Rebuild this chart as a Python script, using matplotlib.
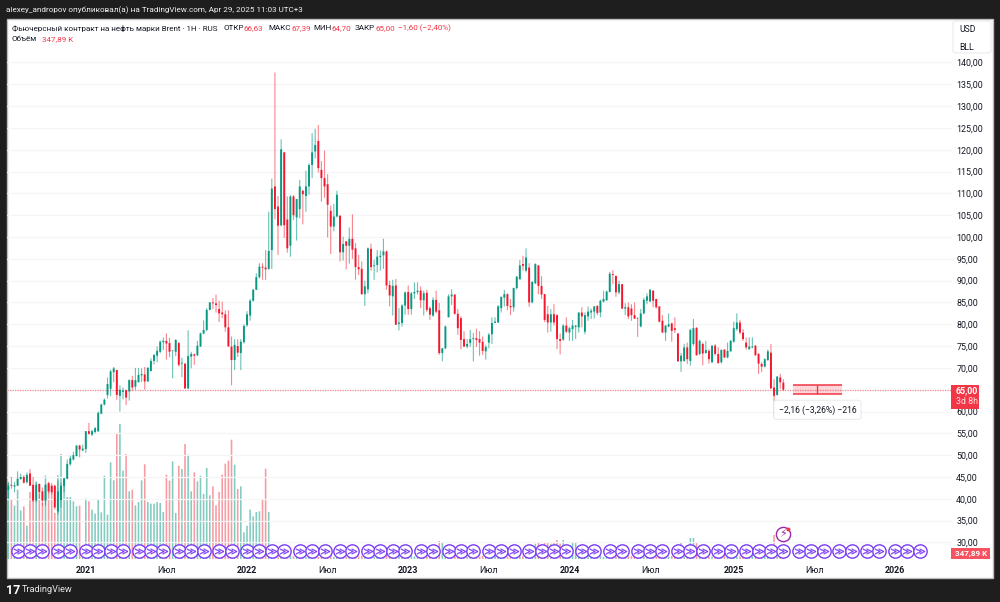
import matplotlib
matplotlib.use('Agg')
import matplotlib.pyplot as plt
import numpy as np
from matplotlib.patches import Rectangle, FancyBboxPatch

plt.rcParams['font.family'] = ['Roboto', 'DejaVu Sans']

# weekly candles, first one is the week of 13 Jul 2020
opens = [
    42.0, 43.2, 42.8, 43.0, 44.5, 45.0, 43.8, 45.8, 43.2, 39.6,
    43.4, 41.7, 39.6, 43.6, 43.0, 43.0, 37.1, 39.7, 42.9, 44.6,
    47.9, 49.0, 49.8, 52.2, 51.1, 51.4, 55.5, 54.7, 55.3, 55.5,
    59.5, 61.6, 63.8, 65.2, 69.0, 69.5, 63.6, 64.5, 64.9, 64.6,
    67.2, 65.7, 66.7, 68.3, 68.5, 66.9, 69.3, 71.6, 72.8, 73.7,
    75.9, 76.2, 75.7, 73.9, 73.7, 75.7, 71.0, 71.0, 65.3, 72.6,
    73.1, 72.9, 74.9, 77.9, 78.7, 83.3, 85.0, 84.8, 83.5, 82.7,
    82.3, 79.3, 74.9, 71.8, 75.0, 73.4, 75.9, 79.8, 82.0, 85.4,
    87.9, 90.8, 93.2, 93.0, 92.7, 97.0, 111.6, 107.0, 102.7, 119.4,
    104.0, 98.0, 109.3, 104.5, 106.4, 110.6, 109.4, 111.6, 116.5, 119.6,
    122.0, 115.4, 113.5, 112.1, 106.0, 102.4, 104.7, 104.9, 96.5, 99.0,
    98.0, 99.6, 97.4, 93.1, 92.7, 86.9, 88.0, 97.3, 93.3, 93.6,
    95.4, 95.8, 96.7, 89.0, 86.4, 88.9, 80.1, 80.3, 84.3, 87.4,
    83.5, 87.1, 87.4, 87.7, 85.5, 87.2, 83.7, 82.0, 85.6, 83.2,
    73.4, 74.5, 81.6, 86.4, 86.8, 82.4, 81.4, 76.6, 74.9, 75.7,
    76.6, 76.8, 76.6, 76.0, 73.8, 75.8, 77.7, 80.3, 80.4, 83.7,
    86.1, 86.9, 84.2, 83.9, 88.3, 90.3, 93.8, 92.3, 93.0, 85.0,
    89.4, 93.5, 88.8, 86.9, 82.3, 80.4, 82.3, 82.1, 76.6, 76.5,
    79.7, 78.1, 78.9, 79.4, 79.3, 82.7, 78.3, 81.8, 82.7, 82.9,
    84.2, 82.7, 85.2, 85.5, 87.4, 91.5, 91.1, 87.3, 89.2, 83.6,
    83.9, 83.6, 82.1, 81.3, 79.5, 82.5, 85.4, 85.2, 87.7, 85.8,
    84.1, 80.8, 78.1, 79.5, 80.2, 79.1, 77.9, 71.5, 71.6, 74.7,
    71.6, 75.5, 79.2, 73.2, 75.5, 73.4, 73.9, 71.3, 75.1, 73.2,
    71.3, 74.2, 72.4, 73.8, 76.0, 78.9, 80.4, 78.1, 75.8, 74.3,
    74.7, 75.1, 73.2, 70.9, 70.3, 71.8, 73.5, 65.5, 63.8, 67.8,
    66.63,
]
highs = [
    43.9, 45.0, 43.9, 46.3, 45.8, 45.4, 46.0, 46.8, 45.0, 43.7,
    43.5, 42.6, 43.4, 43.9, 43.6, 43.2, 44.2, 43.7, 44.8, 49.0,
    49.9, 50.8, 52.3, 52.4, 52.4, 55.5, 57.4, 55.8, 56.5, 60.0,
    61.8, 63.0, 67.8, 69.6, 70.2, 69.6, 66.0, 65.5, 65.0, 67.4,
    68.2, 70.0, 70.0, 69.9, 70.2, 70.2, 72.2, 73.1, 74.9, 76.3,
    77.0, 77.9, 76.9, 74.1, 76.6, 76.0, 72.3, 71.0, 78.6, 73.7,
    73.3, 76.2, 78.1, 80.9, 83.7, 85.1, 86.0, 86.8, 85.4, 85.2,
    83.2, 83.2, 77.2, 76.6, 76.6, 76.6, 80.0, 83.0, 85.8, 88.1,
    91.7, 94.0, 94.0, 97.0, 105.8, 113.4, 137.7, 109.4, 122.4, 119.5,
    109.3, 109.6, 109.6, 108.7, 113.1, 110.8, 115.2, 116.9, 123.8, 124.8,
    125.7, 117.4, 119.8, 114.4, 107.2, 107.6, 110.6, 104.9, 100.1, 99.1,
    102.2, 105.2, 98.6, 95.9, 94.4, 90.0, 97.6, 98.5, 94.8, 97.0,
    96.9, 99.6, 96.9, 90.0, 90.2, 90.4, 83.7, 84.6, 87.5, 88.9,
    87.4, 89.6, 89.6, 88.7, 87.7, 87.9, 84.1, 86.2, 87.7, 84.9,
    74.5, 79.7, 86.9, 88.0, 86.9, 83.5, 81.8, 78.4, 76.6, 78.7,
    78.0, 79.0, 78.4, 77.2, 75.3, 78.0, 81.6, 81.6, 84.4, 86.3,
    87.9, 87.1, 85.8, 88.4, 91.1, 94.7, 95.7, 97.4, 94.0, 89.9,
    94.0, 93.5, 91.0, 86.9, 84.2, 83.5, 84.6, 82.3, 77.9, 80.0,
    81.6, 79.4, 81.0, 79.8, 82.7, 83.9, 82.7, 84.1, 83.6, 84.2,
    84.4, 85.6, 87.7, 87.7, 92.0, 92.4, 91.1, 90.0, 89.2, 84.8,
    85.0, 84.6, 85.0, 81.6, 83.5, 86.1, 87.1, 88.1, 87.8, 85.8,
    84.1, 82.1, 79.8, 82.5, 80.4, 81.6, 77.9, 73.4, 75.5, 75.8,
    78.9, 81.2, 79.3, 76.5, 75.8, 76.2, 74.3, 75.2, 75.5, 74.7,
    74.3, 74.3, 75.8, 76.4, 80.6, 82.5, 81.0, 78.9, 77.0, 77.0,
    77.0, 75.2, 73.4, 71.3, 72.2, 74.2, 75.5, 67.4, 68.1, 68.6,
    67.39,
]
lows = [
    40.0, 42.3, 41.5, 42.9, 44.4, 43.5, 43.5, 43.0, 39.2, 39.2,
    40.0, 38.4, 38.4, 41.2, 41.0, 37.5, 36.4, 38.0, 41.5, 44.5,
    47.6, 48.8, 49.7, 49.5, 50.9, 50.5, 54.7, 54.4, 55.0, 55.3,
    59.4, 61.4, 63.0, 63.5, 66.7, 62.7, 60.0, 62.8, 61.5, 62.5,
    64.8, 65.0, 66.7, 66.8, 65.0, 66.8, 69.2, 70.8, 71.3, 73.4,
    74.1, 71.9, 72.5, 67.6, 72.7, 70.3, 67.9, 65.2, 65.1, 69.9,
    70.7, 72.7, 74.8, 77.7, 78.4, 83.2, 83.5, 82.7, 80.5, 81.4,
    78.3, 74.9, 66.0, 69.5, 72.5, 69.5, 75.6, 79.4, 80.8, 85.2,
    87.9, 90.5, 90.2, 90.2, 92.5, 92.7, 104.1, 95.9, 102.4, 99.8,
    96.4, 95.5, 103.9, 99.2, 104.3, 102.9, 105.8, 109.7, 113.5, 118.0,
    114.8, 108.1, 109.0, 99.9, 96.1, 101.3, 104.5, 94.4, 94.6, 92.6,
    93.9, 95.0, 90.2, 91.3, 86.8, 84.2, 87.1, 92.3, 90.2, 91.9,
    92.3, 92.7, 87.9, 84.1, 82.0, 79.9, 78.6, 79.5, 82.2, 82.2,
    82.2, 85.8, 86.8, 83.7, 82.0, 82.8, 81.0, 81.7, 82.5, 73.0,
    71.5, 74.3, 81.6, 84.4, 82.2, 77.6, 74.3, 74.8, 74.5, 74.8,
    71.5, 74.8, 72.8, 73.0, 71.9, 74.5, 75.5, 80.3, 80.3, 82.7,
    84.1, 83.2, 82.1, 82.9, 88.0, 90.3, 92.3, 91.9, 84.0, 84.8,
    89.2, 86.9, 85.8, 80.5, 78.1, 78.3, 79.7, 74.3, 73.1, 76.2,
    78.0, 76.2, 76.2, 76.6, 78.1, 79.3, 77.7, 80.8, 81.2, 81.3,
    82.1, 81.6, 85.0, 85.4, 87.3, 89.2, 86.3, 86.9, 83.5, 82.1,
    81.2, 80.8, 81.2, 77.1, 79.3, 82.3, 84.6, 85.2, 83.9, 83.6,
    80.4, 78.1, 76.2, 79.3, 76.0, 78.0, 71.4, 69.1, 71.4, 70.9,
    70.5, 75.1, 72.8, 72.9, 70.6, 73.3, 71.0, 71.1, 72.8, 71.0,
    71.0, 72.3, 72.2, 73.7, 75.8, 78.5, 77.7, 76.2, 74.2, 74.2,
    74.5, 72.8, 68.6, 69.1, 70.1, 71.6, 65.2, 58.8, 63.7, 65.2,
    64.70,
]
closes = [
    43.0, 43.0, 43.1, 44.6, 45.0, 43.7, 45.5, 43.0, 39.6, 43.2,
    41.5, 39.6, 43.2, 41.7, 41.5, 38.0, 41.7, 43.0, 44.7, 48.0,
    49.3, 50.0, 52.2, 51.3, 51.5, 55.5, 54.9, 55.5, 56.2, 59.7,
    61.6, 62.7, 66.3, 69.2, 69.9, 63.8, 65.0, 64.8, 63.2, 67.2,
    65.5, 67.2, 68.4, 68.6, 66.9, 70.0, 71.6, 73.0, 73.9, 76.0,
    76.2, 75.6, 73.7, 74.0, 76.4, 70.7, 71.2, 65.3, 72.7, 73.2,
    72.8, 75.1, 77.9, 78.7, 83.3, 85.0, 84.8, 84.4, 82.5, 82.3,
    79.3, 74.9, 71.8, 75.3, 73.5, 76.0, 79.6, 82.3, 85.4, 87.9,
    90.8, 93.2, 93.0, 92.6, 96.8, 111.1, 106.4, 102.6, 120.1, 102.7,
    97.4, 109.3, 105.0, 108.7, 111.6, 109.8, 111.6, 116.5, 119.4, 121.1,
    115.8, 113.5, 111.6, 107.4, 102.4, 104.7, 109.7, 96.5, 98.4, 98.0,
    99.6, 97.1, 93.1, 92.6, 86.9, 88.7, 97.4, 93.1, 93.5, 95.5,
    95.7, 96.7, 88.9, 86.6, 88.8, 79.9, 80.4, 84.3, 87.3, 83.5,
    87.1, 87.4, 87.7, 85.5, 87.1, 83.3, 82.2, 85.6, 82.9, 73.4,
    74.5, 79.5, 86.4, 86.8, 82.4, 79.1, 76.4, 74.9, 75.5, 76.6,
    76.8, 76.4, 75.8, 73.9, 74.8, 77.6, 80.3, 80.6, 84.1, 86.3,
    86.9, 84.2, 83.9, 88.3, 90.9, 93.5, 93.4, 95.3, 85.0, 89.7,
    93.8, 88.8, 86.8, 81.0, 80.4, 82.3, 80.4, 76.6, 76.2, 79.7,
    78.3, 79.1, 79.7, 79.7, 82.7, 81.8, 82.1, 82.9, 83.1, 84.1,
    82.6, 85.4, 85.8, 87.5, 91.6, 91.3, 87.3, 89.2, 83.6, 83.9,
    81.8, 82.1, 81.3, 81.2, 82.5, 85.6, 86.4, 87.9, 85.4, 83.9,
    80.6, 78.1, 79.7, 80.0, 78.5, 78.7, 71.5, 72.8, 74.7, 72.0,
    78.7, 79.1, 72.9, 76.2, 73.3, 74.1, 72.0, 75.1, 73.2, 71.1,
    74.1, 72.4, 73.9, 76.2, 79.1, 80.4, 78.1, 76.6, 74.7, 74.9,
    74.9, 72.9, 71.0, 70.3, 72.0, 73.8, 65.3, 63.6, 68.0, 66.7,
    65.00,
]
# volume in thousands of contracts
volumes = [
    11400, 8900, 8000, 10400, 7300, 7900, 5000, 10050, 9650, 11650,
    9800, 8400, 12500, 11150, 10900, 6900, 12550, 15750, 11900, 9300,
    9300, 8650, 7900, 8000, 1900, 9050, 8650, 7400, 6800, 8900,
    7000, 12500, 6650, 14500, 11800, 18800, 20250, 13250, 15750, 10150,
    10400, 8050, 8550, 11800, 14200, 8550, 8300, 8300, 8550, 8400,
    7050, 12650, 11750, 14650, 6900, 14000, 13500, 17250, 15650, 10150,
    13000, 11650, 12500, 9750, 13650, 9550, 10900, 8050, 10050, 12650,
    14300, 14750, 17900, 14150, 10500, 10900, 4000, 5000, 7400, 6400,
    7050, 7150, 8900, 13550, 7050, 420, 510, 380, 440, 360,
    300, 470, 390, 520, 340, 410, 280, 460, 370, 430,
    310, 500, 350, 390, 450, 290, 420, 360, 480, 330,
    400, 270, 520, 370, 440, 310, 390, 460, 340, 420,
    300, 380, 510, 360, 430, 290, 470, 350, 410, 320,
    490, 380, 440, 300, 520, 360, 400, 340, 460, 2700,
    2550, 380, 420, 310, 470, 350, 390, 500, 330, 440,
    280, 410, 370, 480, 320, 430, 360, 510, 290, 400,
    450, 340, 380, 470, 310, 420, 500, 350, 390, 440,
    2300, 2400, 2200, 2400, 2500, 2300, 2400, 2850, 2300, 2850,
    460, 380, 2550, 2400, 420, 2200, 350, 490, 310, 410,
    370, 450, 330, 500, 280, 430, 390, 360, 470, 320,
    410, 440, 350, 520, 300, 380, 460, 340, 420, 370,
    490, 310, 400, 360, 450, 330, 430, 2400, 380, 470,
    3150, 3150, 2400, 350, 410, 480, 320, 390, 440, 300,
    380, 460, 310, 420, 500, 340, 390, 450, 330, 410,
    510, 370, 430, 340, 460, 280, 420, 3600, 390, 360,
    347.89,
]
# weeks with a contract roll marker
event_weeks = [
    3, 7, 11, 16, 20, 25, 29, 33, 37, 42, 46, 50, 55, 59, 63, 68, 72, 77, 81, 85,
    89, 94, 98, 102, 107, 111, 116, 120, 124, 128, 133, 137, 142, 146, 150, 155, 159,
    163, 168, 172, 176, 180, 185, 189, 194, 198, 203, 207, 211, 216, 220, 224, 229,
    233, 238, 242, 246, 250, 255, 259, 263, 268, 272, 277, 281, 286, 290, 294,
]
tick_weeks = [25, 51, 77, 103, 129, 155, 181, 207, 234, 260, 286]
tick_labels = ['2021', 'Июл', '2022', 'Июл', '2023', 'Июл', '2024', 'Июл', '2025', 'Июл', '2026']
price_ticks = np.arange(30, 145, 5)

last_close = 65.00
range_top = 66.16
range_bottom = 64.00
range_start = 253
range_end = 269

GREEN = '#089981'
RED = '#f23645'
BODY_RED = '#f5162e'
PURPLE = '#7a3cf5'
W, H = 1000, 602


def px_x(x):
    return x / W


def px_y(y):
    return 1 - y / H


def label(x, y, s, color='#131722', size=5.8, **kw):
    kw.setdefault('va', 'center')
    fig.text(px_x(x), px_y(y), s, color=color, fontsize=size, **kw)


fig = plt.figure(figsize=(W / 100, H / 100), dpi=100, facecolor='#1e1e1e')
fig.patches.append(Rectangle((px_x(7), px_y(578)), 986 / W, 559 / H, transform=fig.transFigure,
                             facecolor='white', edgecolor='#bdbdbd', linewidth=1, zorder=-5))

vol_ax = fig.add_axes([px_x(7), px_y(559), 945 / W, 540 / H])
vol_ax.patch.set_visible(False)
ax = vol_ax.twinx()
ax.set_zorder(vol_ax.get_zorder() + 1)
ax.patch.set_visible(False)

weeks = np.arange(len(closes))
o = np.array(opens)
h = np.array(highs)
l = np.array(lows)
c = np.array(closes)
up = c >= o
colors = np.where(up, GREEN, RED)
body_colors = np.where(up, GREEN, BODY_RED)

# no pixel snapping, the reference is a downscaled screenshot
vol_bars = vol_ax.bar(weeks, volumes, width=0.52, color=colors, alpha=0.5, linewidth=0)
for b in vol_bars:
    b.set_snap(False)
vol_ax.set_ylim(0, 81000)
vol_ax.set_xlim(-0.42, 304.4)
vol_ax.set_yticks([])

ax.set_ylim(26.2, 149.97)
ax.set_xlim(-0.42, 304.4)
wicks = ax.vlines(weeks, l, h, colors=colors, linewidth=0.8, alpha=0.6, zorder=3)
wicks.set_snap(False)
bodies = ax.bar(weeks, np.abs(c - o), bottom=np.minimum(o, c), width=0.62, color=body_colors, linewidth=0, zorder=4)
for b in bodies:
    b.set_snap(False)

ax.set_yticks(price_ticks)
ax.set_yticklabels(['' if p == 65 else f'{p},00' for p in price_ticks], fontsize=6.4, color='#131722')
ax.yaxis.tick_right()
ax.tick_params(axis='y', length=0, pad=3)
ax.grid(True, color='#f5f5f5', linewidth=0.9, zorder=0)
ax.set_axisbelow(True)
ax.set_xticks(tick_weeks)
vol_ax.set_xticks(tick_weeks)
vol_ax.set_xticklabels(tick_labels, fontsize=6.4, color='#131722')
vol_ax.tick_params(axis='x', length=0, pad=5)
ax.tick_params(axis='x', length=0, labelbottom=False)
for t in vol_ax.get_xticklabels():
    if t.get_text().isdigit():
        t.set_fontweight('bold')
for a in (ax, vol_ax):
    for s in a.spines.values():
        s.set_visible(False)

ax.axhline(last_close, color=RED, linewidth=0.9, linestyle=(0, (1, 1)), alpha=0.55, zorder=2)

# price range tool
ax.fill_between([range_start, range_end], range_bottom, range_top, color=RED, alpha=0.2, linewidth=0, zorder=5)
ax.hlines([range_bottom, range_top], range_start, range_end, color=RED, linewidth=1.1, zorder=6)
ax.vlines((range_start + range_end) / 2, range_bottom, range_top, color=RED, linewidth=1, zorder=6)
ax.text((range_start + range_end) / 2, 60.4, '−2,16 (−3,26%) −216', fontsize=6.2, color='#131722', ha='center',
        va='center', zorder=8,
        bbox=dict(boxstyle='round,pad=0.55,rounding_size=0.3', facecolor='white', edgecolor='#ececec', linewidth=0.8))

# event markers
ax.scatter(event_weeks, [28.1] * len(event_weeks), s=92, facecolor='white', edgecolor=PURPLE, linewidth=1, zorder=9,
           clip_on=False)
ax.scatter(event_weeks, [28.1] * len(event_weeks), s=42, marker='$\\gg$', color=PURPLE, linewidth=0.2, zorder=10,
           clip_on=False)
ax.scatter([250], [31.9], s=105, facecolor='white', edgecolor='#9c27b0', linewidth=1, zorder=9)
ax.text(250, 31.9, '⚡', family='DejaVu Sans', fontsize=8, color='#9c27b0', ha='center', va='center', zorder=10)
ax.scatter([251.5], [33.1], s=8, color=RED, linewidth=0, zorder=11)

# header
label(6, 10, 'alexey_andropov опубликовал(а) на TradingView.com, Apr 29, 2025 11:03 UTC+3', color='#f0f0f0', size=5.9)
label(12, 28, 'Фьючерсный контракт на нефть марки Brent · 1H · RUS')
segments = [(223, 'ОТКР', '#131722'), (244, '66,63', RED), (268, 'МАКС', '#131722'), (291, '67,39', RED),
            (313, 'МИН', '#131722'), (331, '64,70', RED), (355, 'ЗАКР', '#131722'), (376, '65,00', RED),
            (398, '−1,60 (−2,40%)', RED)]
for x, s, col in segments:
    label(x, 28, s, color=col)
label(12, 39, 'Объём')
label(42, 39, '347,89 K', color=RED)

# price axis labels
fig.patches.append(FancyBboxPatch((px_x(953), px_y(53)), 38 / W, 32 / H, transform=fig.transFigure,
                                  boxstyle='round,pad=0,rounding_size=0.004', facecolor='white',
                                  edgecolor='#eeeeee', linewidth=1, zorder=1))
label(959, 29, 'USD', size=6.2)
label(959, 47, 'BLL', size=6.2)
fig.patches.append(Rectangle((px_x(951), px_y(409)), 28 / W, 24 / H, transform=fig.transFigure,
                             facecolor=RED, edgecolor='none', zorder=1))
label(956, 391, '65,00', color='white', size=6.4, fontweight='bold')
label(956, 401, '3d 8h', color='#ffd8dc', size=6.4)
fig.patches.append(Rectangle((px_x(951), px_y(559)), 39 / W, 11 / H, transform=fig.transFigure,
                             facecolor='#f7525f', edgecolor='none', zorder=1))
label(955, 553.5, '347,89 K', color='white', size=5.8, fontweight='bold')

# footer logo
label(6, 590, '17', color='white', size=9, fontweight='bold')
label(22, 590, 'TradingView', color='#e8e8e8', size=6.6)

fig.savefig('out.png', dpi=100, facecolor=fig.get_facecolor())
